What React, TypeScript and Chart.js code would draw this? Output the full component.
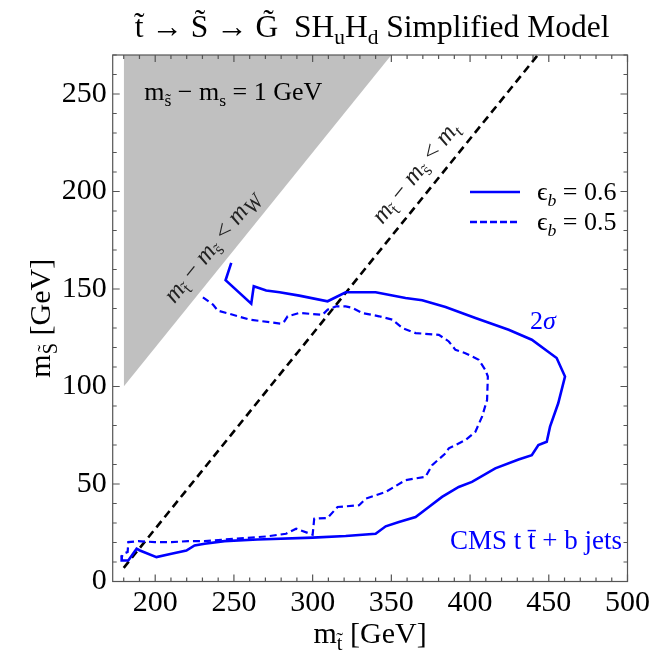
import React, { useEffect, useRef } from "react";
import { Chart, registerables } from "chart.js";
Chart.register(...registerables);

// ---- data ----
const solidX = [248.3, 244.7, 261, 262.6, 270.5, 279, 291.5, 309.5, 321, 340, 359, 369.6, 384.4, 403.4, 424.5, 439.2, 455, 460.3, 456, 450.8, 448.7, 443.4, 439.2, 430.8, 416, 401.2, 392.8, 382.2, 373.8, 365.4, 354.8, 346.4, 340, 321, 300, 265, 244, 231.4, 225, 219.8, 210.3, 200.8, 190.3, 188.2, 182.9, 178.7, 178.7];
const solidY = [163.4, 154.5, 142.5, 151.4, 149.2, 148.3, 146.6, 143.7, 148.3, 148.3, 145.4, 144.2, 140.8, 135.1, 129.1, 124, 114.6, 105.1, 91.4, 79.4, 71.7, 70, 64.8, 62.6, 58, 51.1, 48.5, 43.4, 38.2, 33.1, 30.5, 28.3, 24.5, 23.3, 22.5, 21.5, 20.7, 19.4, 18.5, 15.9, 14.2, 12.5, 15.9, 16.8, 10.8, 10.8, 13.4];
const dashedX = [230.3, 236.7, 239.8, 249.3, 259.9, 280, 282, 284.1, 291.5, 306.3, 309.5, 314.8, 321, 325.3, 331.6, 342.2, 350.6, 357, 365.4, 380.2, 386.5, 390.7, 397, 405.5, 409.7, 411.3, 410.8, 407.6, 403.4, 397, 386.5, 384.4, 375.9, 371.7, 359, 346.4, 333.8, 329.5, 315.8, 309.5, 301, 300, 289.5, 283.1, 270.5, 242, 231.4, 220.9, 210.3, 199.8, 189.2, 182.9, 182.5, 179.7, 178.7];
const dashedY = [145.7, 142, 138.9, 136.8, 134.3, 132.2, 133.4, 136, 137.7, 136.8, 139.4, 141.1, 141.1, 140.3, 137.7, 136, 134.3, 130, 127.4, 126.5, 123.1, 118.8, 117.1, 113.7, 108.5, 105.1, 93.1, 84.5, 76.8, 72.5, 68.3, 65.7, 59.7, 53.7, 52, 45.9, 42.5, 39.1, 38.2, 32.6, 32.2, 24, 27.1, 24.5, 23.1, 21.4, 20.7, 20.7, 20.2, 20.2, 20.7, 20.2, 15.1, 14.2, 12.5];
// m_t~ - m_s~ = m_W boundary (grey region above it)
const wLineX = [180, 350];
const wLineY = [100, 270];
const grayTop = 270;
// m_t~ - m_s~ = m_t line
const tLineX = [180, 443];
const tLineY = [7, 270];

const xTicks = [200, 250, 300, 350, 400, 450, 500];
const yTicks = [0, 50, 100, 150, 200, 250];
const X_MIN = 173, X_MAX = 500, Y_MIN = 0, Y_MAX = 270;

const BLUE = "#0000ff";
const FAM = "'Liberation Serif', 'Times New Roman', serif";

type Seg = { t: string; sub?: boolean; italic?: boolean; scale?: number };

function drawRich(ctx: CanvasRenderingContext2D, segs: Seg[], x: number, y: number, size: number, color: string, align: "left" | "center" | "right") {
  const fontOf = (s: Seg) => {
    const sz = size * (s.scale ?? (s.sub ? 0.68 : 1));
    return `${s.italic ? "italic " : ""}${sz}px ${FAM}`;
  };
  let w = 0;
  const widths: number[] = [];
  for (const s of segs) {
    ctx.font = fontOf(s);
    const m = ctx.measureText(s.t).width;
    widths.push(m);
    w += m;
  }
  let cx = align === "left" ? x : align === "center" ? x - w / 2 : x - w;
  ctx.fillStyle = color;
  ctx.textAlign = "left";
  ctx.textBaseline = "alphabetic";
  segs.forEach((s, i) => {
    ctx.font = fontOf(s);
    ctx.fillText(s.t, cx, y + (s.sub ? size * 0.22 : 0));
    cx += widths[i];
  });
}

const decorPlugin = {
  id: "decor",
  afterDatasetsDraw(chart: any) {
    const ctx: CanvasRenderingContext2D = chart.ctx;
    const xs = chart.scales.x;
    const ys = chart.scales.y;
    const ca = chart.chartArea;
    ctx.save();

    // frame
    ctx.strokeStyle = "#555";
    ctx.lineWidth = 1.2;
    ctx.setLineDash([]);
    ctx.strokeRect(ca.left, ca.top, ca.right - ca.left, ca.bottom - ca.top);
    // ticks, inward on all four sides
    ctx.beginPath();
    for (let v = 180; v <= X_MAX; v += 10) {
      const px = xs.getPixelForValue(v);
      const len = v % 50 === 0 ? 7 : 4;
      ctx.moveTo(px, ca.bottom); ctx.lineTo(px, ca.bottom - len);
      ctx.moveTo(px, ca.top); ctx.lineTo(px, ca.top + len);
    }
    for (let v = Y_MIN; v <= Y_MAX; v += 10) {
      const py = ys.getPixelForValue(v);
      const len = v % 50 === 0 ? 7 : 4;
      ctx.moveTo(ca.left, py); ctx.lineTo(ca.left + len, py);
      ctx.moveTo(ca.right, py); ctx.lineTo(ca.right - len, py);
    }
    ctx.stroke();

    // text in grey region
    drawRich(ctx, [{ t: "m" }, { t: "s̃", sub: true }, { t: " − m" }, { t: "s", sub: true }, { t: " = 1 GeV" }],
      xs.getPixelForValue(193), ys.getPixelForValue(247), 26, "#000", "left");

    // rotated labels along the lines
    const rot = (lx: number[], ly: number[], cxv: number, cyv: number, segs: Seg[]) => {
      const p0x = xs.getPixelForValue(lx[0]), p0y = ys.getPixelForValue(ly[0]);
      const p1x = xs.getPixelForValue(lx[1]), p1y = ys.getPixelForValue(ly[1]);
      const ang = Math.atan2(p1y - p0y, p1x - p0x);
      ctx.save();
      ctx.translate(xs.getPixelForValue(cxv), ys.getPixelForValue(cyv));
      ctx.rotate(ang);
      drawRich(ctx, segs, 0, 8, 25, "#222", "center");
      ctx.restore();
    };
    rot(wLineX, wLineY, 235.5, 172, [
      { t: "m", italic: true }, { t: "t̃", sub: true }, { t: " − " }, { t: "m", italic: true }, { t: "s̃", sub: true }, { t: " < " }, { t: "m", italic: true }, { t: "W", italic: true, sub: true, scale: 0.85 },
    ]);
    rot(tLineX, tLineY, 365, 210, [
      { t: "m", italic: true }, { t: "t̃", sub: true }, { t: " − " }, { t: "m", italic: true }, { t: "s̃", sub: true }, { t: " < " }, { t: "m", italic: true }, { t: "t", italic: true, sub: true },
    ]);

    // legend
    const lx0 = 470, lx1 = 520;
    ctx.strokeStyle = BLUE;
    ctx.lineWidth = 2.5;
    ctx.beginPath(); ctx.moveTo(lx0, 192); ctx.lineTo(lx1, 192); ctx.stroke();
    ctx.setLineDash([7, 3]);
    ctx.beginPath(); ctx.moveTo(lx0, 222); ctx.lineTo(lx1, 222); ctx.stroke();
    ctx.setLineDash([]);
    drawRich(ctx, [{ t: "ϵ" }, { t: "b", sub: true, italic: true }, { t: " = 0.6" }], 537, 200, 26, "#000", "left");
    drawRich(ctx, [{ t: "ϵ" }, { t: "b", sub: true, italic: true }, { t: " = 0.5" }], 537, 230, 26, "#000", "left");

    // blue labels
    drawRich(ctx, [{ t: "2" }, { t: "σ", italic: true }], 530, 329, 26, BLUE, "left");
    drawRich(ctx, [{ t: "CMS t t̄ + b jets" }], 450, 549, 27, BLUE, "left");

    ctx.restore();
  },
  afterDraw(chart: any) {
    const ctx: CanvasRenderingContext2D = chart.ctx;
    const ca = chart.chartArea;
    const cx = (ca.left + ca.right) / 2;
    ctx.save();
    drawRich(ctx, [{ t: "t̃ → S̃ → G̃  SH" }, { t: "u", sub: true }, { t: "H" }, { t: "d", sub: true }, { t: " Simplified Model" }],
      cx + 2, 37, 31.5, "#000", "center");
    drawRich(ctx, [{ t: "m" }, { t: "t̃", sub: true }, { t: " [GeV]" }], cx, 643, 30, "#000", "center");
    ctx.translate(50, (ca.top + ca.bottom) / 2);
    ctx.rotate(-Math.PI / 2);
    drawRich(ctx, [{ t: "m" }, { t: "S̃", sub: true }, { t: " [GeV]" }], 0, 0, 30, "#000", "center");
    ctx.restore();
  },
};

export default function App() {
  const ref = useRef<HTMLCanvasElement | null>(null);
  useEffect(() => {
    document.body.style.margin = "0";
    const pts = (xs: number[], ys: number[]) => xs.map((x, i) => ({ x, y: ys[i] }));
    const chart = new Chart(ref.current as HTMLCanvasElement, {
      type: "line",
      data: {
        datasets: [
          { data: pts(solidX, solidY), borderColor: BLUE, borderWidth: 2.6, pointRadius: 0, fill: false, order: 0, tension: 0 },
          { data: pts(dashedX, dashedY), borderColor: BLUE, borderWidth: 2.2, borderDash: [7, 4], pointRadius: 0, fill: false, order: 0, tension: 0 },
          { data: pts(tLineX, tLineY), borderColor: "#000", borderWidth: 2.6, borderDash: [8, 5], pointRadius: 0, fill: false, order: 1 },
          { data: pts(wLineX, wLineY), borderColor: "rgba(0,0,0,0)", borderWidth: 0, backgroundColor: "#c0c0c0", pointRadius: 0, fill: { value: grayTop }, order: 2 },
        ] as any,
      },
      options: {
        responsive: false,
        animation: false,
        devicePixelRatio: 1,
        layout: { padding: { top: 55, right: 24.5, left: 0, bottom: 0 } },
        plugins: { legend: { display: false }, tooltip: { enabled: false }, title: { display: false } },
        scales: {
          x: {
            type: "linear", min: X_MIN, max: X_MAX,
            grid: { display: false, drawTicks: false },
            border: { display: false },
            afterBuildTicks: (s: any) => { s.ticks = xTicks.map((v) => ({ value: v })); },
            afterFit: (s: any) => { s.height = 79.5; },
            ticks: { font: { family: FAM, size: 30 }, color: "#000", padding: 4, maxRotation: 0, autoSkip: false, callback: (v: any) => String(v) },
          },
          y: {
            type: "linear", min: Y_MIN, max: Y_MAX,
            grid: { display: false, drawTicks: false },
            border: { display: false },
            afterBuildTicks: (s: any) => { s.ticks = yTicks.map((v) => ({ value: v })); },
            afterFit: (s: any) => { s.width = 112.7; },
            ticks: { font: { family: FAM, size: 30 }, color: "#000", padding: 6, autoSkip: false, callback: (v: any) => String(v) },
          },
        },
      } as any,
      plugins: [decorPlugin],
    });
    return () => chart.destroy();
  }, []);
  return (
    <div style={{ width: 654, height: 661 }}>
      <canvas ref={ref} width={654} height={661} />
    </div>
  );
}
